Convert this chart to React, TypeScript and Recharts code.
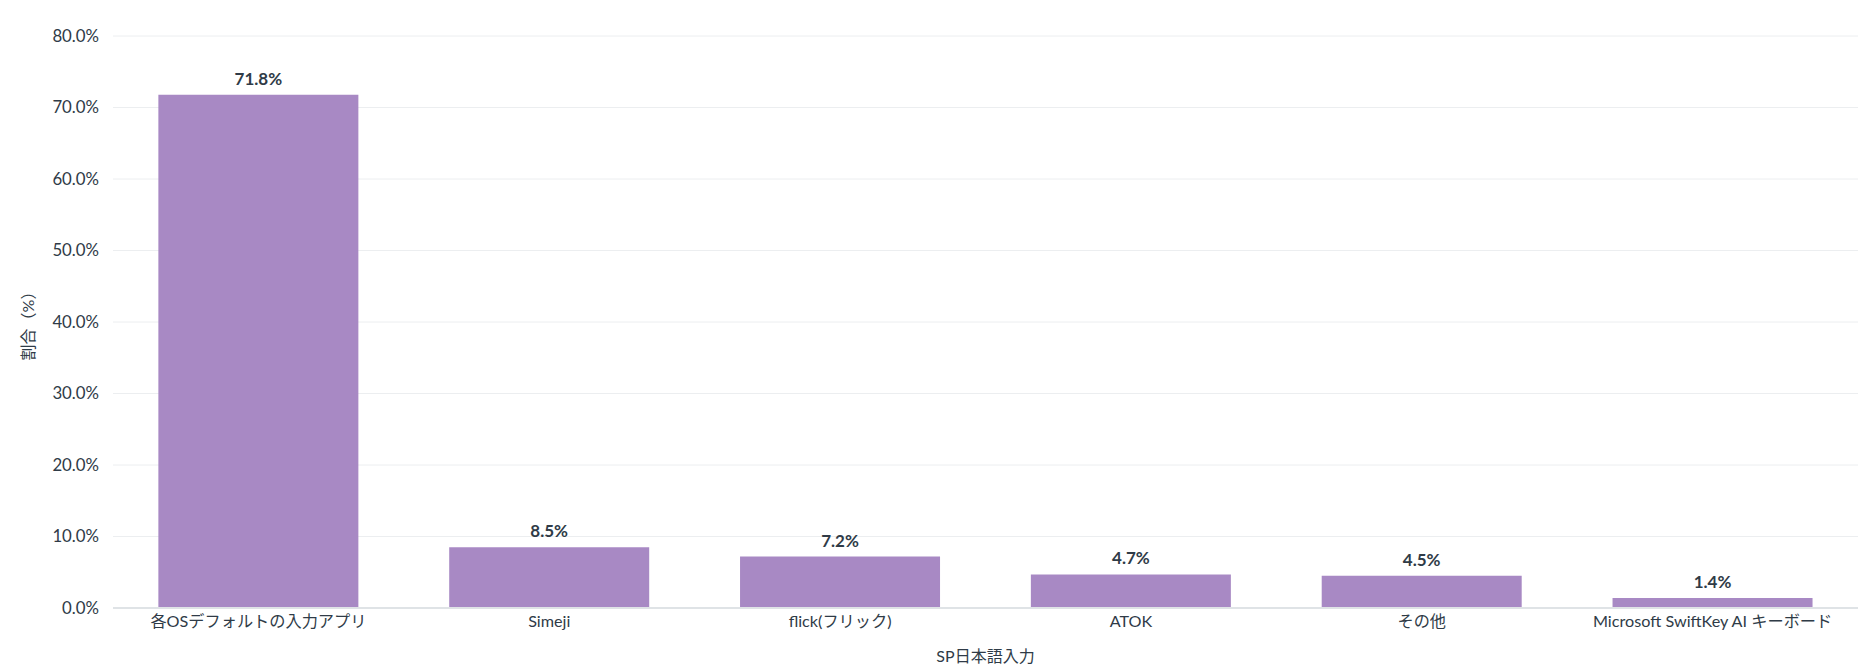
import React from 'react';
import { BarChart, Bar, XAxis, YAxis, CartesianGrid, LabelList } from 'recharts';

if (typeof document !== 'undefined') {
  document.body.style.margin = '0';
}

const categories = [
  '各OSデフォルトの入力アプリ',
  'Simeji',
  'flick(フリック)',
  'ATOK',
  'その他',
  'Microsoft SwiftKey AI キーボード',
];
const shares = [71.8, 8.5, 7.2, 4.7, 4.5, 1.4];
const yTicks = [0, 10, 20, 30, 40, 50, 60, 70, 80];

const data = categories.map((name, i) => ({ name, value: shares[i] }));

const textColor = '#2f3b47';
const fontFamily = 'Lato, "Noto Sans CJK JP", sans-serif';

export default function App() {
  return (
    <div style={{ fontFamily }}>
      <BarChart
        width={1858}
        height={671}
        data={data}
        margin={{ top: 36, right: 0, left: 0, bottom: 0 }}
        barCategoryGap="15.6%"
      >
        <CartesianGrid vertical={false} stroke="#eceef0" />
        <XAxis
          dataKey="name"
          height={63}
          tickLine={false}
          tickSize={0}
          tickMargin={7}
          axisLine={{ stroke: '#dfe3e6', strokeWidth: 2 }}
          tick={{ fill: textColor, fontSize: 16.2, fontFamily }}
          interval={0}
          label={{
            value: 'SP日本語入力',
            position: 'insideBottom',
            offset: 9,
            fill: textColor,
            fontSize: 16,
            fontFamily,
          }}
        />
        <YAxis
          width={113}
          domain={[0, 80]}
          ticks={yTicks}
          tickFormatter={(v: number) => `${v.toFixed(1)}%`}
          axisLine={false}
          tickLine={false}
          tickSize={0}
          tickMargin={14}
          tick={{ fill: textColor, fontSize: 16.8, fontFamily }}
          label={{
            value: '割合（%）',
            angle: -90,
            position: 'insideLeft',
            offset: 28,
            fill: textColor,
            fontSize: 16,
            fontFamily,
            style: { textAnchor: 'middle' },
          }}
        />
        <Bar dataKey="value" fill="#a889c4" isAnimationActive={false}>
          <LabelList
            dataKey="value"
            position="top"
            offset={10}
            formatter={(v: number) => `${v.toFixed(1)}%`}
            fill={textColor}
            fontSize={17}
            fontWeight="bold"
            fontFamily={fontFamily}
          />
        </Bar>
      </BarChart>
    </div>
  );
}
